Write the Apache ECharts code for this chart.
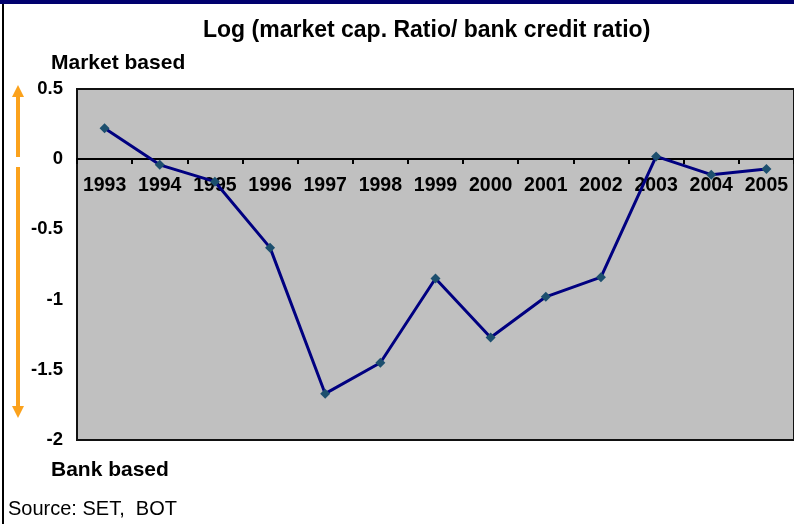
<!DOCTYPE html>
<html>
<head>
<meta charset="utf-8">
<script src="https://cdn.jsdelivr.net/npm/echarts@6/dist/echarts.min.js"></script>
<style>
  html, body { margin: 0; padding: 0; background: #fff; }
  #main { width: 794px; height: 524px; }
</style>
</head>
<body>
<div id="main"></div>
<script>
// years on the x axis
var years = ['1993', '1994', '1995', '1996', '1997', '1998', '1999',
  '2000', '2001', '2002', '2003', '2004', '2005']
// log(market cap ratio / bank credit ratio)
var logRatio = [0.22, -0.04, -0.16, -0.63, -1.67, -1.45, -0.85,
  -1.27, -0.98, -0.84, 0.02, -0.11, -0.07]

var chart = echarts.init(document.getElementById('main'))
var font = 'Arial, "Liberation Sans", sans-serif'

chart.setOption({
  animation: false,
  title: {
    text: 'Log (market cap. Ratio/ bank credit ratio)',
    left: 203,
    top: 19,
    padding: 0,
    textStyle: { fontFamily: font, fontSize: 23, fontWeight: 'bold', color: '#000' }
  },
  grid: {
    left: 77,
    top: 89,
    width: 722,
    height: 351,
    show: true,
    backgroundColor: '#c0c0c0',
    borderColor: '#111',
    borderWidth: 2
  },
  xAxis: {
    type: 'category',
    data: years,
    boundaryGap: true,
    // the axis sits on the zero line (0 is 281px above the bottom)
    offset: -281,
    axisLine: { onZero: false, lineStyle: { color: '#000', width: 2 } },
    axisTick: { show: true, interval: 0, length: 5, lineStyle: { color: '#000', width: 2 } },
    axisLabel: {
      interval: 0,
      hideOverlap: false,
      margin: 17,
      fontFamily: font,
      fontSize: 19.5,
      fontWeight: 'bold',
      color: '#000'
    }
  },
  yAxis: {
    type: 'value',
    min: -2,
    max: 0.5,
    interval: 0.5,
    splitLine: { show: false },
    axisLine: { show: false },
    axisTick: { show: false },
    axisLabel: {
      margin: 14,
      padding: [4, 0, 0, 0],
      fontFamily: font,
      fontSize: 18.5,
      fontWeight: 'bold',
      color: '#000'
    }
  },
  series: [{
    type: 'line',
    data: logRatio,
    symbol: 'diamond',
    symbolSize: 10,
    lineStyle: { color: '#000080', width: 3 },
    itemStyle: { color: '#1c4f6e' }
  }],
  graphic: [
    // frame
    { type: 'rect', shape: { x: 0, y: 0, width: 794, height: 4 }, style: { fill: '#00006e' } },
    { type: 'rect', shape: { x: 2, y: 4, width: 2, height: 520 }, style: { fill: '#000' } },
    // side notes
    { type: 'text', left: 51, top: 53, style: { text: 'Market based', font: 'bold 21px ' + font, fill: '#000' } },
    { type: 'text', left: 51, top: 460, style: { text: 'Bank based', font: 'bold 21px ' + font, fill: '#000' } },
    { type: 'text', left: 8, top: 499, style: { text: 'Source: SET,  BOT', font: '20px ' + font, fill: '#000' } },
    // orange arrows
    { type: 'line', shape: { x1: 18, y1: 95, x2: 18, y2: 157 }, style: { stroke: '#fba21c', lineWidth: 4 } },
    { type: 'polygon', shape: { points: [[12, 97], [24, 97], [18, 85]] }, style: { fill: '#fba21c' } },
    { type: 'line', shape: { x1: 18, y1: 167, x2: 18, y2: 408 }, style: { stroke: '#fba21c', lineWidth: 4 } },
    { type: 'polygon', shape: { points: [[12, 406], [24, 406], [18, 418]] }, style: { fill: '#fba21c' } }
  ]
})
</script>
</body>
</html>
